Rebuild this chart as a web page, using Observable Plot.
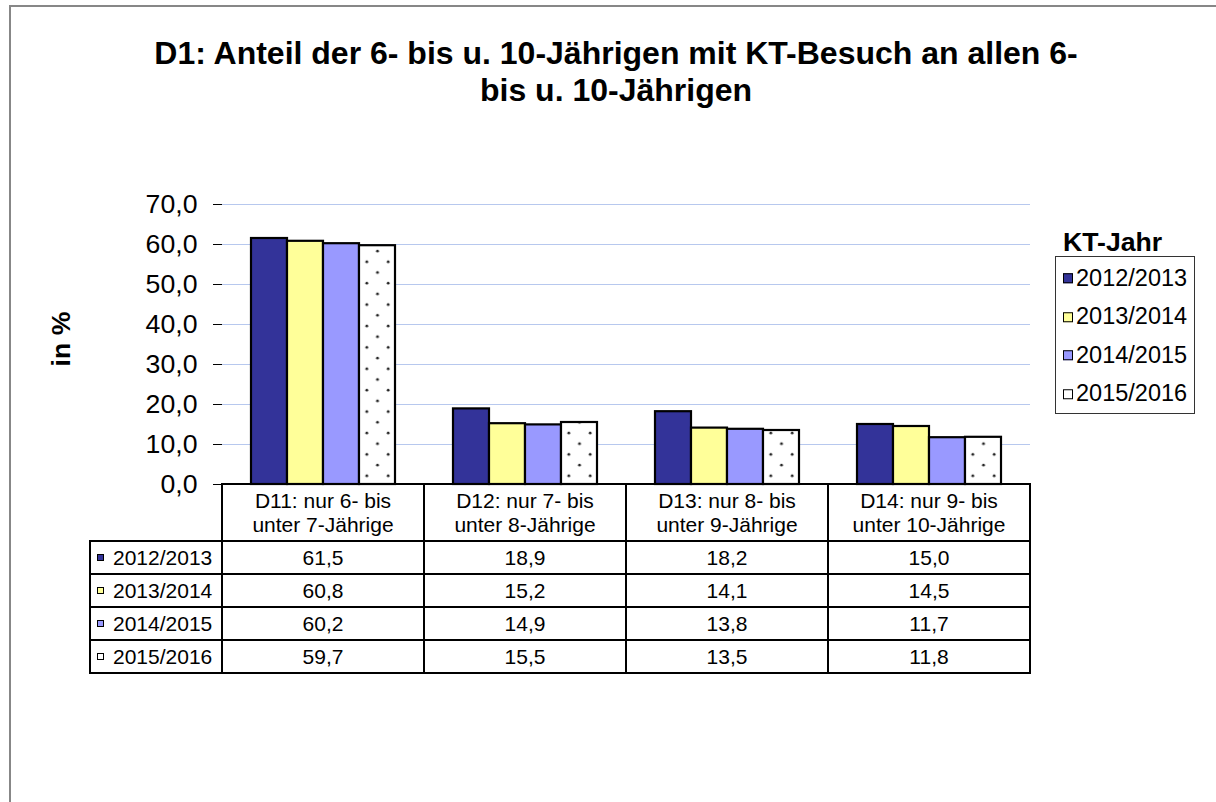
<!DOCTYPE html>
<html>
<head>
<meta charset="utf-8">
<script src="https://cdn.jsdelivr.net/npm/d3@7"></script>
<script src="https://cdn.jsdelivr.net/npm/@observablehq/plot@0.6"></script>
<style>
  html, body { margin: 0; padding: 0; background: #fff; overflow: hidden; width: 1216px; height: 802px; }
  #page { position: relative; width: 1216px; height: 802px; overflow: hidden; background: #fff;
          font-family: "Liberation Sans", Arial, sans-serif; color: #000; }
  #vline { position: absolute; left: 9px; top: 5px; width: 2px; height: 797px; background: #878787; }
  #hline { position: absolute; left: 9px; top: 5px; width: 1207px; height: 2px; background: #878787; }
  #chart { position: absolute; left: 0; top: 0; width: 1216px; height: 500px; overflow: visible; }
  #title { position: absolute; left: 0; top: 35px; width: 1232px; text-align: center;
           font-weight: bold; font-size: 32px; line-height: 37px; white-space: nowrap; }
  #ylabel { position: absolute; left: 61px; top: 339px; transform: translate(-50%, -50%) rotate(-90deg);
            font-weight: bold; font-size: 26.67px; white-space: nowrap; line-height: 1; }
  #legtitle { position: absolute; left: 1063px; top: 229px; font-weight: bold; font-size: 26.67px; line-height: 1; white-space: nowrap; }
  #legend { position: absolute; left: 1055px; top: 256px; width: 140px; height: 158px; box-sizing: border-box;
            border: 1px solid #333; }
  .legitem { position: absolute; left: 7px; display: flex; align-items: center; font-size: 23.5px; line-height: 1; white-space: nowrap; transform: translateY(-50%); }
  .legsw { width: 10px; height: 10px; box-sizing: border-box; border: 1.5px solid #000; margin-right: 3px; }
  .cell { position: absolute; box-sizing: border-box; border: 2px solid #000; display: flex; align-items: center;
          justify-content: center; font-size: 21px; line-height: 23.3px; white-space: pre; text-align: center; }
  .labcell { justify-content: flex-start; padding-left: 6px; }
  .tabsw { width: 7px; height: 7px; box-sizing: border-box; border: 1px solid #000; margin-right: 9px; }
</style>
</head>
<body>
<div id="page">
  <div id="vline"></div>
  <div id="hline"></div>
  <div id="chart"></div>
  <div id="title">D1: Anteil der 6- bis u. 10-Jährigen mit KT-Besuch an allen 6-<br>bis u. 10-Jährigen</div>
  <div id="ylabel">in %</div>
  <div id="legtitle">KT-Jahr</div>
  <div id="legend"></div>
  <div id="table"></div>
</div>
<script>
// ---- data ----
const categories = [
  "D11: nur 6- bis\nunter 7-Jährige",
  "D12: nur 7- bis\nunter 8-Jährige",
  "D13: nur 8- bis\nunter 9-Jährige",
  "D14: nur 9- bis\nunter 10-Jährige"
];
const seriesNames = ["2012/2013", "2013/2014", "2014/2015", "2015/2016"];
const values2012_2013 = [61.5, 18.9, 18.2, 15.0];
const values2013_2014 = [60.8, 15.2, 14.1, 14.5];
const values2014_2015 = [60.2, 14.9, 13.8, 11.7];
const values2015_2016 = [59.7, 15.5, 13.5, 11.8];
const yTicks = [0, 10, 20, 30, 40, 50, 60, 70];
const seriesFills = ["#333399", "#FFFF99", "#9999FF", "url(#dots)"];
const swatchFills = ["#333399", "#FFFF99", "#9999FF", "#FFFFFF"];

const seriesValues = [values2012_2013, values2013_2014, values2014_2015, values2015_2016];
const rows = categories.flatMap((c, i) =>
  seriesNames.map((s, j) => ({cat: c, series: s, value: seriesValues[j][i]})));
const fmt = d => d.toFixed(1).replace(".", ",");

const chart = Plot.plot({
  width: 1216,
  height: 500,
  marginLeft: 221,
  marginRight: 185,
  marginTop: 184,
  marginBottom: 16,
  style: {background: "transparent", fontFamily: "'Liberation Sans', Arial, sans-serif", fontSize: "26.67px", color: "#000", overflow: "visible"},
  fx: {domain: categories, padding: 0, axis: null, label: null},
  x: {domain: seriesNames, paddingInner: 0, paddingOuter: 0.75, axis: null},
  y: {domain: [0, 75], axis: null},
  color: {domain: seriesNames, range: seriesFills},
  marks: [
    Plot.gridY(yTicks, {stroke: "#b7c8ee", strokeOpacity: 1, strokeWidth: 1}),
    Plot.barY(rows, {fx: "cat", x: "series", y: "value", fill: "series", stroke: "#000", strokeWidth: 2.2}),
    Plot.axisY(yTicks, {tickFormat: fmt, tickSize: 9, tickPadding: 16, line: true, label: null, stroke: "#000", fill: "#000"})
  ]
});

// dot pattern for the last series
chart.insertAdjacentHTML("afterbegin",
  '<defs><pattern id="dots" patternUnits="userSpaceOnUse" width="21.4" height="21.4">' +
  '<rect width="21.4" height="21.4" fill="#fff"/>' +
  '<circle cx="2" cy="5" r="1.4" fill="#222"/>' +
  '<circle cx="12.7" cy="15.7" r="1.4" fill="#222"/></pattern></defs>');
document.getElementById("chart").appendChild(chart);

// legend
const legend = document.getElementById("legend");
seriesNames.forEach((s, j) => {
  const it = document.createElement("div");
  it.className = "legitem";
  it.style.top = (21.7 + j * 38.5) + "px";
  it.innerHTML = `<div class="legsw" style="background:${swatchFills[j]}"></div><span>${s}</span>`;
  legend.appendChild(it);
});

// data table aligned with the chart's scales
const fx = chart.scale("fx");
const y = chart.scale("y");
const y0 = y.apply(0);
const bw = fx.bandwidth;
const headerH = 57, rowH = 33, labelLeft = 90;
const table = document.getElementById("table");
function cell(left, top, w, h, content, cls) {
  const d = document.createElement("div");
  d.className = "cell" + (cls ? " " + cls : "");
  d.style.left = (left - 1) + "px";
  d.style.top = (top - 1) + "px";
  d.style.width = (w + 2) + "px";
  d.style.height = (h + 2) + "px";
  if (typeof content === "string") d.textContent = content; else d.appendChild(content);
  table.appendChild(d);
}
categories.forEach(c => cell(fx.apply(c), y0, bw, headerH, c));
seriesNames.forEach((s, j) => {
  const top = y0 + headerH + j * rowH;
  const lab = document.createElement("div");
  lab.style.display = "flex"; lab.style.alignItems = "center";
  lab.innerHTML = `<div class="tabsw" style="background:${swatchFills[j]}"></div><span>${s}</span>`;
  const firstLeft = fx.apply(categories[0]);
  cell(labelLeft, top, firstLeft - labelLeft, rowH, lab, "labcell");
  categories.forEach((c, i) => cell(fx.apply(c), top, bw, rowH, fmt(seriesValues[j][i])));
});
</script>
</body>
</html>
